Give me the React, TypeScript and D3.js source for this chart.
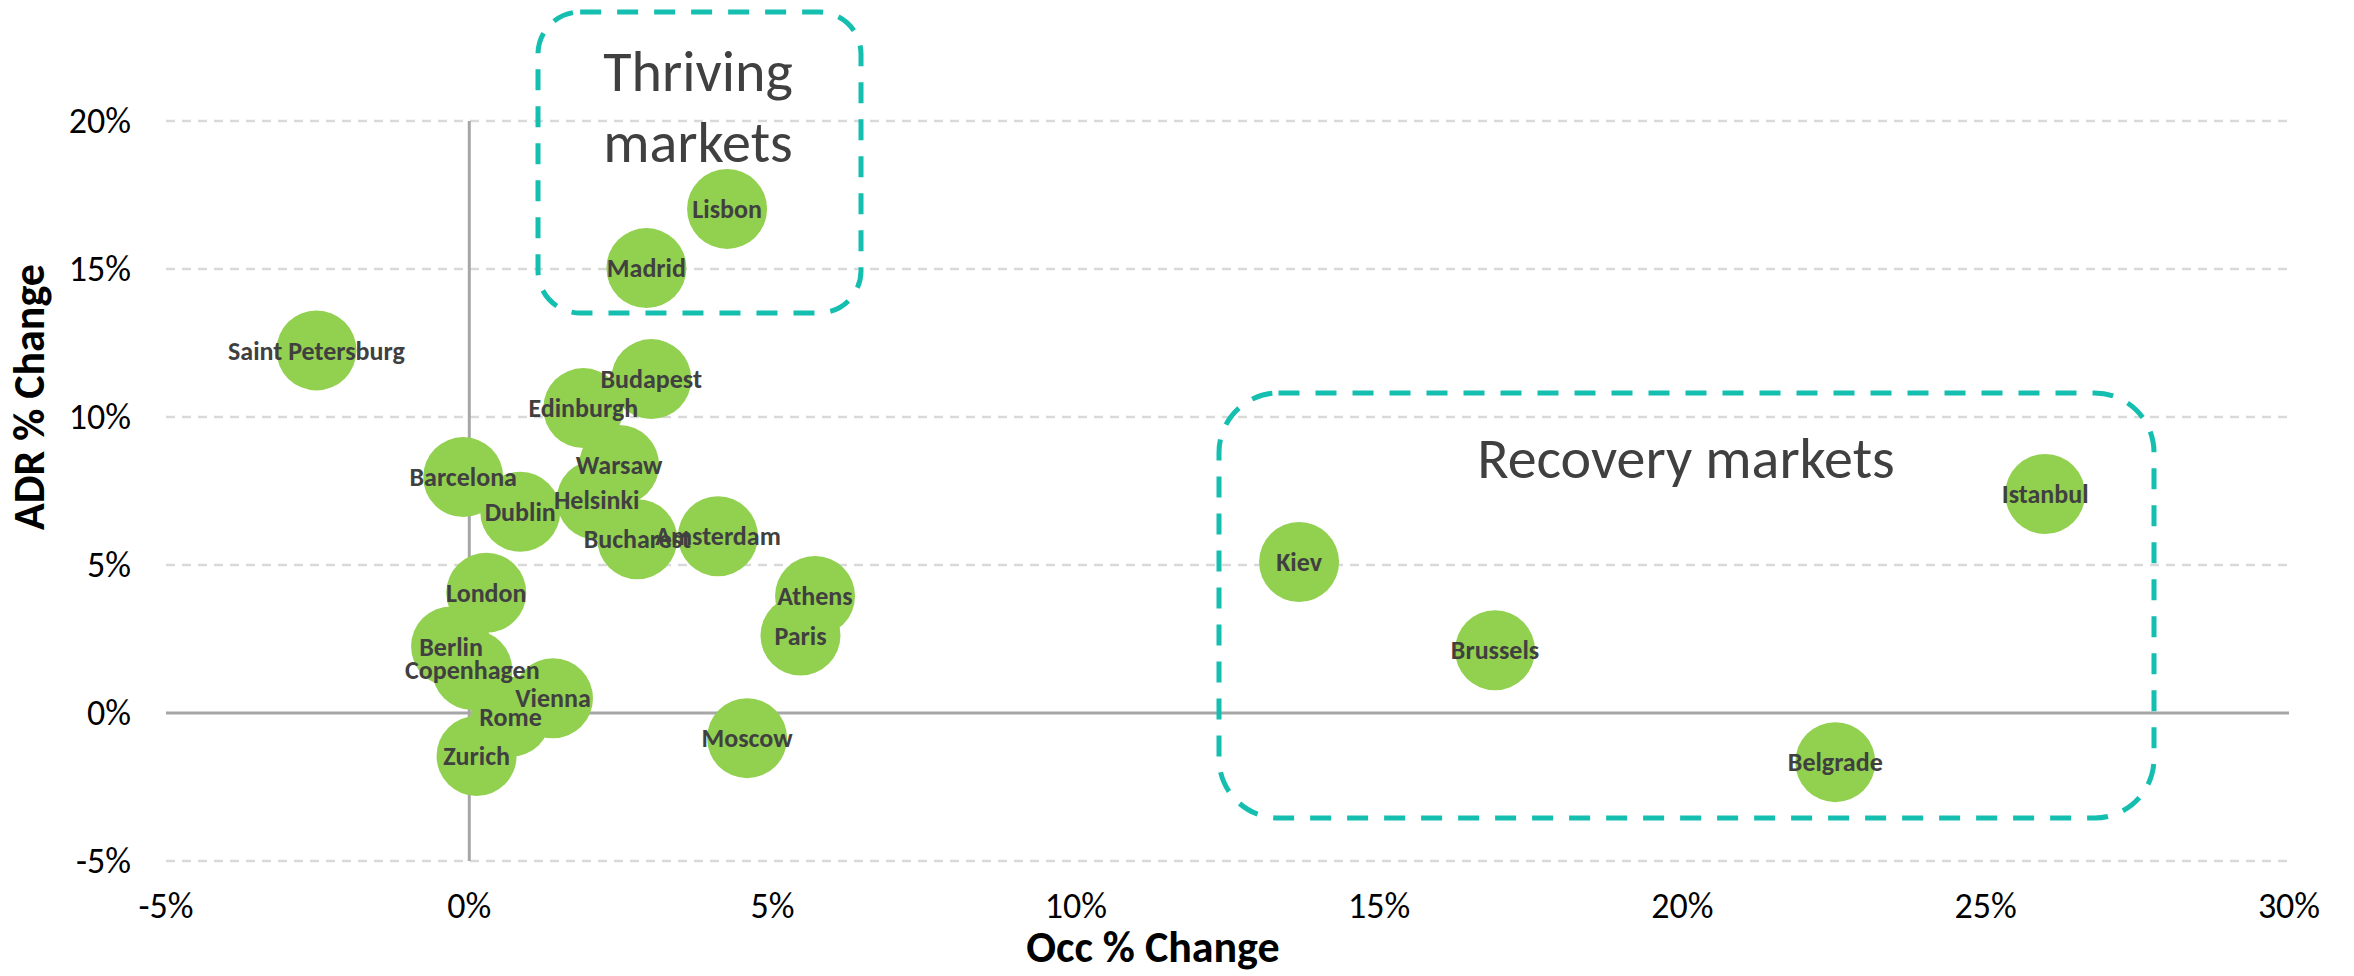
import React from "react";
import * as d3 from "d3";

const cities = [
  "Saint Petersburg", "Lisbon", "Madrid", "Budapest", "Edinburgh", "Warsaw",
  "Barcelona", "Dublin", "Helsinki", "Bucharest", "Amsterdam", "London",
  "Athens", "Paris", "Berlin", "Copenhagen", "Vienna", "Rome", "Zurich",
  "Moscow", "Kiev", "Brussels", "Belgrade", "Istanbul",
];
const occChange = [
  -2.52, 4.25, 2.92, 3.0, 1.88, 2.47,
  -0.1, 0.84, 2.1, 2.77, 4.1, 0.28,
  5.7, 5.46, -0.3, 0.05, 1.38, 0.68, 0.12,
  4.58, 13.68, 16.91, 22.52, 25.98,
];
const adrChange = [
  12.25, 17.03, 15.03, 11.28, 10.3, 8.38,
  7.97, 6.8, 7.2, 5.87, 5.97, 4.06,
  3.95, 2.62, 2.25, 1.45, 0.5, -0.13, -1.45,
  -0.85, 5.1, 2.12, -1.66, 7.4,
];
const xTicks = [-5, 0, 5, 10, 15, 20, 25, 30];
const yTicks = [-5, 0, 5, 10, 15, 20];
const xTitle = "Occ % Change";
const yTitle = "ADR % Change";
const thrivingLines = ["Thriving", "markets"];
const recoveryLabel = "Recovery markets";

const W = 2354;
const H = 976;
const FONT = "Carlito, Calibri, Lato, 'Open Sans', sans-serif";
const TEXT = "#404040";
const GREEN = "#92D050";
const TEAL = "#14BFAF";

export default function App() {
  const x = d3.scaleLinear().domain([-5, 30]).range([166, 2289]);
  const y = d3.scaleLinear().domain([-5, 20]).range([861, 121]);
  const fmt = (v: number) => `${v}%`;
  const r = 40;

  const boxes = [
    { x0: 538, y0: 12, x1: 861, y1: 313 },
    { x0: 1219, y0: 393, x1: 2154, y1: 818 },
  ];

  return (
    <svg
      width={W}
      height={H}
      style={{ position: "absolute", left: 0, top: 0, background: "#fff" }}
      fontFamily={FONT}
    >
      {yTicks.filter((t) => t !== 0).map((t) => (
        <line
          key={"g" + t}
          x1={x(-5)}
          x2={x(30)}
          y1={y(t)}
          y2={y(t)}
          stroke="#D9D9D9"
          strokeWidth={2.5}
          strokeDasharray="9 7"
        />
      ))}
      <line x1={x(-5)} x2={x(30)} y1={y(0)} y2={y(0)} stroke="#A6A6A6" strokeWidth={3} />
      <line x1={x(0)} x2={x(0)} y1={y(20)} y2={y(-5)} stroke="#A6A6A6" strokeWidth={3} />

      {yTicks.map((t) => (
        <text
          key={"yt" + t}
          x={131}
          y={y(t) + 12}
          textAnchor="end"
          fontSize={36}
          fill="#000"
        >
          {fmt(t)}
        </text>
      ))}
      {xTicks.map((t) => (
        <text
          key={"xt" + t}
          x={x(t)}
          y={918}
          textAnchor="middle"
          fontSize={36}
          fill="#000"
        >
          {fmt(t)}
        </text>
      ))}

      <text x={1153} y={962} textAnchor="middle" fontSize={44} fontWeight="bold" fill="#000">
        {xTitle}
      </text>
      <text
        transform={`translate(44,397) rotate(-90)`}
        textAnchor="middle"
        fontSize={44}
        fontWeight="bold"
        fill="#000"
      >
        {yTitle}
      </text>

      {cities.map((c, i) => (
        <circle key={"b" + c} cx={x(occChange[i])} cy={y(adrChange[i])} r={r} fill={GREEN} />
      ))}
      {cities.map((c, i) => (
        <text
          key={"l" + c}
          x={x(occChange[i])}
          y={y(adrChange[i])}
          dy="0.35em"
          textAnchor="middle"
          fontSize={26}
          fontWeight="bold"
          fill={TEXT}
        >
          {c}
        </text>
      ))}

      {boxes.map((b, i) => {
        const w = b.x1 - b.x0;
        const h = b.y1 - b.y0;
        const rr = Math.min(w, h) * 0.14;
        return (
          <rect
            key={"box" + i}
            x={b.x0}
            y={b.y0}
            width={w}
            height={h}
            rx={rr}
            ry={rr}
            fill="none"
            stroke={TEAL}
            strokeWidth={5}
            strokeDasharray="21 16"
          />
        );
      })}
      {thrivingLines.map((l, i) => (
        <text
          key={"th" + i}
          x={698}
          y={91 + i * 71}
          textAnchor="middle"
          fontSize={58}
          fill={TEXT}
        >
          {l}
        </text>
      ))}
      <text x={1686} y={478} textAnchor="middle" fontSize={58} fill={TEXT}>
        {recoveryLabel}
      </text>
    </svg>
  );
}
